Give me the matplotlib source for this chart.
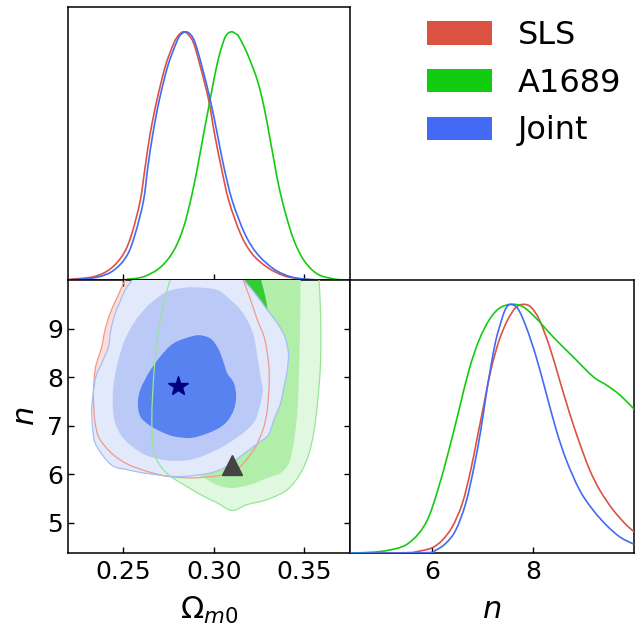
import matplotlib
matplotlib.use('Agg')
import numpy as np
import matplotlib.pyplot as plt
from matplotlib.patches import Patch, PathPatch
from matplotlib.path import Path

# ---------------- data ----------------
names = ['SLS', 'A1689', 'Joint']

# 1D marginal of Omega_m0 (normalised to peak 1)
om_sls = [0.2204, 0.2333, 0.2426, 0.2500, 0.2546, 0.2593, 0.2620, 0.2648, 0.2685, 0.2731, 0.2778, 0.2806,
          0.2833, 0.2861, 0.2889, 0.2926, 0.2972, 0.3004, 0.3041, 0.3083, 0.3148, 0.3213, 0.3296, 0.3389,
          0.3481, 0.3556]
p_om_sls = [0.003, 0.013, 0.044, 0.105, 0.186, 0.320, 0.455, 0.590, 0.724, 0.859, 0.953, 0.987,
            1.0, 0.987, 0.953, 0.859, 0.724, 0.590, 0.455, 0.320, 0.186, 0.105, 0.051, 0.017,
            0.004, 0.0]
om_a = [0.2519, 0.2611, 0.2704, 0.2778, 0.2833, 0.2880, 0.2917, 0.2944, 0.2972, 0.3000, 0.3028, 0.3056,
        0.3074, 0.3098, 0.3120, 0.3139, 0.3185, 0.3241, 0.3278, 0.3306, 0.3333, 0.3361, 0.3398, 0.3444,
        0.3500, 0.3574, 0.3667, 0.3741]
p_om_a = [0.003, 0.013, 0.051, 0.118, 0.213, 0.347, 0.482, 0.590, 0.697, 0.805, 0.899, 0.966,
          0.991, 1.0, 0.993, 0.980, 0.913, 0.805, 0.697, 0.590, 0.482, 0.374, 0.266, 0.159,
          0.078, 0.024, 0.004, 0.0]
om_j = [0.2222, 0.2352, 0.2444, 0.2519, 0.2565, 0.2611, 0.2635, 0.2663, 0.2698, 0.2744, 0.2791, 0.2815,
        0.2846, 0.2874, 0.2898, 0.2935, 0.2981, 0.3019, 0.3056, 0.3102, 0.3172, 0.3241, 0.3333, 0.3426,
        0.3519, 0.3593]
p_om_j = [0.001, 0.011, 0.038, 0.098, 0.186, 0.320, 0.455, 0.590, 0.724, 0.859, 0.953, 0.987,
          1.0, 0.987, 0.953, 0.859, 0.724, 0.590, 0.455, 0.320, 0.186, 0.105, 0.044, 0.013,
          0.003, 0.0]

# 1D marginal of n
n_sls = [4.367, 5.467, 5.733, 6.000, 6.200, 6.400, 6.600, 6.767, 6.900, 7.033, 7.167, 7.333, 7.500,
         7.667, 7.820, 7.967, 8.133, 8.333, 8.533, 8.733, 8.933, 9.133, 9.333, 9.600, 9.867, 10.02]
p_n_sls = [0.0, 0.001, 0.007, 0.021, 0.051, 0.105, 0.199, 0.333, 0.467, 0.601, 0.736, 0.856, 0.937,
           0.988, 1.0, 0.988, 0.937, 0.830, 0.695, 0.561, 0.440, 0.333, 0.252, 0.172, 0.111, 0.085]
n_a = [4.367, 4.800, 5.133, 5.467, 5.733, 5.933, 6.133, 6.333, 6.533, 6.733, 6.933, 7.133, 7.333,
       7.567, 7.800, 8.067, 8.400, 8.800, 9.200, 9.467, 9.733, 10.02]
p_n_a = [0.0, 0.003, 0.011, 0.031, 0.078, 0.145, 0.266, 0.413, 0.574, 0.736, 0.856, 0.937, 0.984,
         1.0, 0.991, 0.944, 0.870, 0.789, 0.709, 0.675, 0.635, 0.577]
n_j = [4.367, 5.867, 6.067, 6.267, 6.467, 6.667, 6.833, 6.967, 7.067, 7.167, 7.267, 7.400, 7.467,
       7.547, 7.700, 7.867, 8.067, 8.267, 8.467, 8.667, 8.933, 9.200, 9.467, 9.733, 10.02]
p_n_j = [0.0, 0.001, 0.011, 0.038, 0.091, 0.199, 0.346, 0.494, 0.628, 0.749, 0.856, 0.950, 0.984,
         1.0, 0.984, 0.910, 0.789, 0.642, 0.494, 0.373, 0.252, 0.172, 0.111, 0.064, 0.034]

# 2D credible-region boundaries (Omega_m0, n); open ones run from the top edge back to the top edge
sls_outer_om = [0.2509, 0.2467, 0.2426, 0.2398, 0.2380, 0.2357, 0.2343, 0.2333, 0.2337, 0.2343, 0.2361,
                0.2398, 0.2454, 0.2528, 0.2630, 0.2741, 0.2870, 0.2963, 0.3056, 0.3148, 0.3222, 0.3250,
                0.3278, 0.3296, 0.3306, 0.3306, 0.3296, 0.3278, 0.3241, 0.3204, 0.3163]
sls_outer_n = [10.01, 9.667, 9.323, 8.979, 8.636, 8.361, 8.155, 7.674, 7.330, 7.055, 6.780,
               6.574, 6.368, 6.196, 6.058, 5.955, 5.921, 5.942, 5.990, 6.162, 6.505, 6.711,
               6.986, 7.330, 7.811, 8.155, 8.498, 8.842, 9.186, 9.598, 10.01]

a_outer_om = [0.2759, 0.2731, 0.2704, 0.2685, 0.2670, 0.2661, 0.2657, 0.2661, 0.2681, 0.2713, 0.2759,
              0.2833, 0.2926, 0.3019, 0.3102, 0.3185, 0.3296, 0.3407, 0.3481, 0.3528, 0.3556, 0.3574,
              0.3589, 0.3593, 0.3589, 0.3583]
a_outer_n = [10.01, 9.667, 9.186, 8.704, 8.155, 7.605, 7.124, 6.643, 6.333, 6.127, 5.955,
             5.784, 5.577, 5.405, 5.247, 5.371, 5.474, 5.680, 6.024, 6.436, 6.918, 7.467,
             8.155, 8.842, 9.529, 10.01]
a_mid_om = [0.3481, 0.3478, 0.3472, 0.3463, 0.3448, 0.3435, 0.3417, 0.3370, 0.3296, 0.3204,
            0.3111, 0.3037, 0.2963, 0.2889, 0.2833, 0.2815, 0.2824, 0.2852, 0.2889]
a_mid_n = [10.01, 9.186, 8.155, 7.330, 6.780, 6.505, 6.230, 6.024, 5.921, 5.784,
           5.715, 5.749, 5.887, 6.093, 6.505, 7.124, 7.811, 8.842, 10.01]
a_in_om = [0.3263, 0.3281, 0.3296, 0.3287, 0.3241, 0.3148, 0.3037, 0.2963, 0.2944, 0.2963, 0.3000]
a_in_n = [10.01, 9.735, 9.392, 8.842, 8.155, 7.605, 7.467, 7.880, 8.498, 9.392, 10.01]

j_outer_om = [0.3167, 0.3213, 0.3259, 0.3296, 0.3352, 0.3393, 0.3413, 0.3407, 0.3389, 0.3370,
              0.3333, 0.3315, 0.3296, 0.3222, 0.3148, 0.3074, 0.2981, 0.2852, 0.2759, 0.2611, 0.2519,
              0.2444, 0.2389, 0.2343, 0.2330, 0.2324, 0.2333, 0.2348, 0.2380, 0.2417, 0.2430, 0.2454,
              0.2478, 0.2509, 0.2549]
j_outer_n = [10.01, 9.804, 9.584, 9.392, 9.117, 8.842, 8.498, 8.155, 7.811, 7.467,
             7.124, 6.918, 6.780, 6.574, 6.368, 6.162, 6.024, 5.955, 5.955, 6.024, 6.093,
             6.162, 6.368, 6.643, 6.918, 7.330, 7.674, 8.017, 8.292, 8.636, 8.979, 9.323,
             9.529, 9.804, 10.01]
j_mid_om = [0.2889, 0.2815, 0.2741, 0.2685, 0.2630, 0.2556, 0.2500, 0.2463, 0.2444, 0.2441, 0.2454,
            0.2491, 0.2546, 0.2630, 0.2741, 0.2852, 0.2944, 0.3037, 0.3111, 0.3185, 0.3231, 0.3259,
            0.3272, 0.3259, 0.3241, 0.3222, 0.3194, 0.3148, 0.3093, 0.3019]
j_mid_n = [9.859, 9.838, 9.770, 9.632, 9.460, 9.117, 8.704, 8.223, 7.811, 7.399, 7.055,
           6.780, 6.574, 6.381, 6.285, 6.285, 6.381, 6.540, 6.711, 6.918, 7.124, 7.467,
           7.742, 8.017, 8.430, 8.842, 9.117, 9.392, 9.598, 9.804]
j_in_om = [0.2889, 0.2778, 0.2704, 0.2639, 0.2593, 0.2580, 0.2593, 0.2639, 0.2704, 0.2778, 0.2870,
           0.2944, 0.3019, 0.3074, 0.3111, 0.3124, 0.3111, 0.3074, 0.3056, 0.3028, 0.2991, 0.2944]
j_in_n = [8.856, 8.704, 8.430, 8.086, 7.742, 7.467, 7.192, 7.021, 6.883, 6.780, 6.746,
          6.814, 6.931, 7.089, 7.330, 7.605, 7.880, 8.086, 8.292, 8.567, 8.773, 8.856]

star_pt = (0.2800, 7.81)
tri_pt = (0.3102, 6.196)

om_ticks = [0.25, 0.30, 0.35]
om_ticklabels = ['0.25', '0.30', '0.35']
n_ticks_y = [5, 6, 7, 8, 9]
n_ticks_x = [6, 8]
om_lim = (0.2193, 0.3754)
n_lim = (4.37, 10.01)

# ---------------- style ----------------
c_line = {'SLS': '#DB5242', 'A1689': '#11CC11', 'Joint': '#426AF5'}
c_red_fill = '#FADED9'
c_red_edge = '#F09A8E'
c_g_light, c_g_mid, c_g_dark, c_g_edge = '#E0F8E0', '#B0EEAA', '#33CC33', '#96E696'
c_b_light, c_b_mid, c_b_dark, c_b_edge = '#E2E9FA', '#BBC9F6', '#5882F0', '#A9BDF5'


def smooth_path(xs, ys, closed=False):
    """Smooth (Catmull-Rom style) rendering path passing through the given points."""
    pts = np.column_stack([xs, ys]).astype(float)
    n = len(pts)
    if closed:
        P = np.vstack([pts[-1], pts, pts[0], pts[1]])
        nseg = n
    else:
        P = np.vstack([pts[0], pts, pts[-1]])
        nseg = n - 1
    verts = [P[1]]
    codes = [Path.MOVETO]
    for i in range(1, nseg + 1):
        p0, p1, p2, p3 = P[i - 1], P[i], P[i + 1], P[i + 2]
        verts += [p1 + (p2 - p0) / 6.0, p2 - (p3 - p1) / 6.0, p2]
        codes += [Path.CURVE4] * 3
    if closed:
        verts.append(P[1])
        codes.append(Path.CLOSEPOLY)
    return Path(np.array(verts), codes)


def close_above(xs, ys):
    """Close a boundary that leaves through the top edge, going round outside the axes."""
    top = n_lim[1]
    ex = [xs[-1], xs[-1], xs[0], xs[0]]
    ey = [top + 0.3, top + 0.7, top + 0.7, top + 0.3]
    return list(xs) + ex, list(ys) + ey


def curve(ax, xs, ys, color, lw=1.2, z=3):
    ax.add_patch(PathPatch(smooth_path(xs, ys), fill=False, edgecolor=color, lw=lw,
                           capstyle='round', joinstyle='round', zorder=z))


def fill(ax, xs, ys, color, z, open_top=False):
    if open_top:
        xs, ys = close_above(xs, ys)
    ax.add_patch(PathPatch(smooth_path(xs, ys, closed=True), facecolor=color, edgecolor='none', zorder=z))


fig = plt.figure(figsize=(6.42, 6.30), dpi=100)
W, H = 642, 630


def rect(x0, y0, x1, y1):
    return [x0 / W, 1 - y1 / H, (x1 - x0) / W, (y1 - y0) / H]


ax_top = fig.add_axes(rect(68, 7, 350, 280))
ax_2d = fig.add_axes(rect(68, 280, 350, 553))
ax_n = fig.add_axes(rect(350, 280, 634, 553))

for ax in (ax_top, ax_2d, ax_n):
    for s in ax.spines.values():
        s.set_linewidth(1.1)
    ax.tick_params(direction='in', length=4, width=1.0, labelsize=18, pad=5)

# top marginal
curve(ax_top, om_sls, p_om_sls, c_line['SLS'])
curve(ax_top, om_a, p_om_a, c_line['A1689'])
curve(ax_top, om_j, p_om_j, c_line['Joint'])
ax_top.set_xlim(om_lim)
ax_top.set_ylim(0, 1.10)
ax_top.set_xticks(om_ticks)
ax_top.set_yticks([])
ax_top.tick_params(labelbottom=False)

# n marginal
curve(ax_n, n_sls, p_n_sls, c_line['SLS'])
curve(ax_n, n_a, p_n_a, c_line['A1689'])
curve(ax_n, n_j, p_n_j, c_line['Joint'])
ax_n.set_xlim(n_lim)
ax_n.set_ylim(0, 1.098)
ax_n.set_xticks(n_ticks_x)
ax_n.set_yticks([])
ax_n.set_xlabel(r'$n$', fontsize=22, labelpad=8)

# 2D
fill(ax_2d, sls_outer_om, sls_outer_n, c_red_fill, 1, open_top=True)
fill(ax_2d, a_outer_om, a_outer_n, c_g_light, 2, open_top=True)
fill(ax_2d, a_mid_om, a_mid_n, c_g_mid, 3, open_top=True)
fill(ax_2d, a_in_om, a_in_n, c_g_dark, 4, open_top=True)
fill(ax_2d, j_outer_om, j_outer_n, c_b_light, 5, open_top=True)
fill(ax_2d, j_mid_om, j_mid_n, c_b_mid, 6)
fill(ax_2d, j_in_om, j_in_n, c_b_dark, 7)
curve(ax_2d, sls_outer_om, sls_outer_n, c_red_edge, lw=0.9, z=8)
curve(ax_2d, a_outer_om, a_outer_n, c_g_edge, lw=0.9, z=8)
curve(ax_2d, j_outer_om, j_outer_n, c_b_edge, lw=0.9, z=8)

ax_2d.plot(*star_pt, marker='*', color='#000080', markersize=15, zorder=10, linestyle='none')
ax_2d.plot(*tri_pt, marker='^', color='#444444', markersize=15, zorder=10, linestyle='none')

ax_2d.set_xlim(om_lim)
ax_2d.set_ylim(n_lim)
ax_2d.set_xticks(om_ticks)
ax_2d.set_xticklabels(om_ticklabels)
ax_2d.set_yticks(n_ticks_y)
ax_2d.tick_params(top=True, right=True)
ax_2d.tick_params(axis='y', pad=3.5)
ax_2d.set_xlabel(r'$\Omega_{m0}$', fontsize=22, labelpad=8)
ax_2d.set_ylabel(r'$n$', fontsize=22, labelpad=5)

handles = [Patch(facecolor=c_line[k], edgecolor='none') for k in names]
fig.legend(handles, names, loc='upper right', bbox_to_anchor=(0.968, 0.968), fontsize=23,
           frameon=False, handlelength=2.03, handleheight=0.75, handletextpad=0.81,
           labelspacing=0.52, borderpad=0, borderaxespad=0)

fig.savefig('out.png', dpi=100)
